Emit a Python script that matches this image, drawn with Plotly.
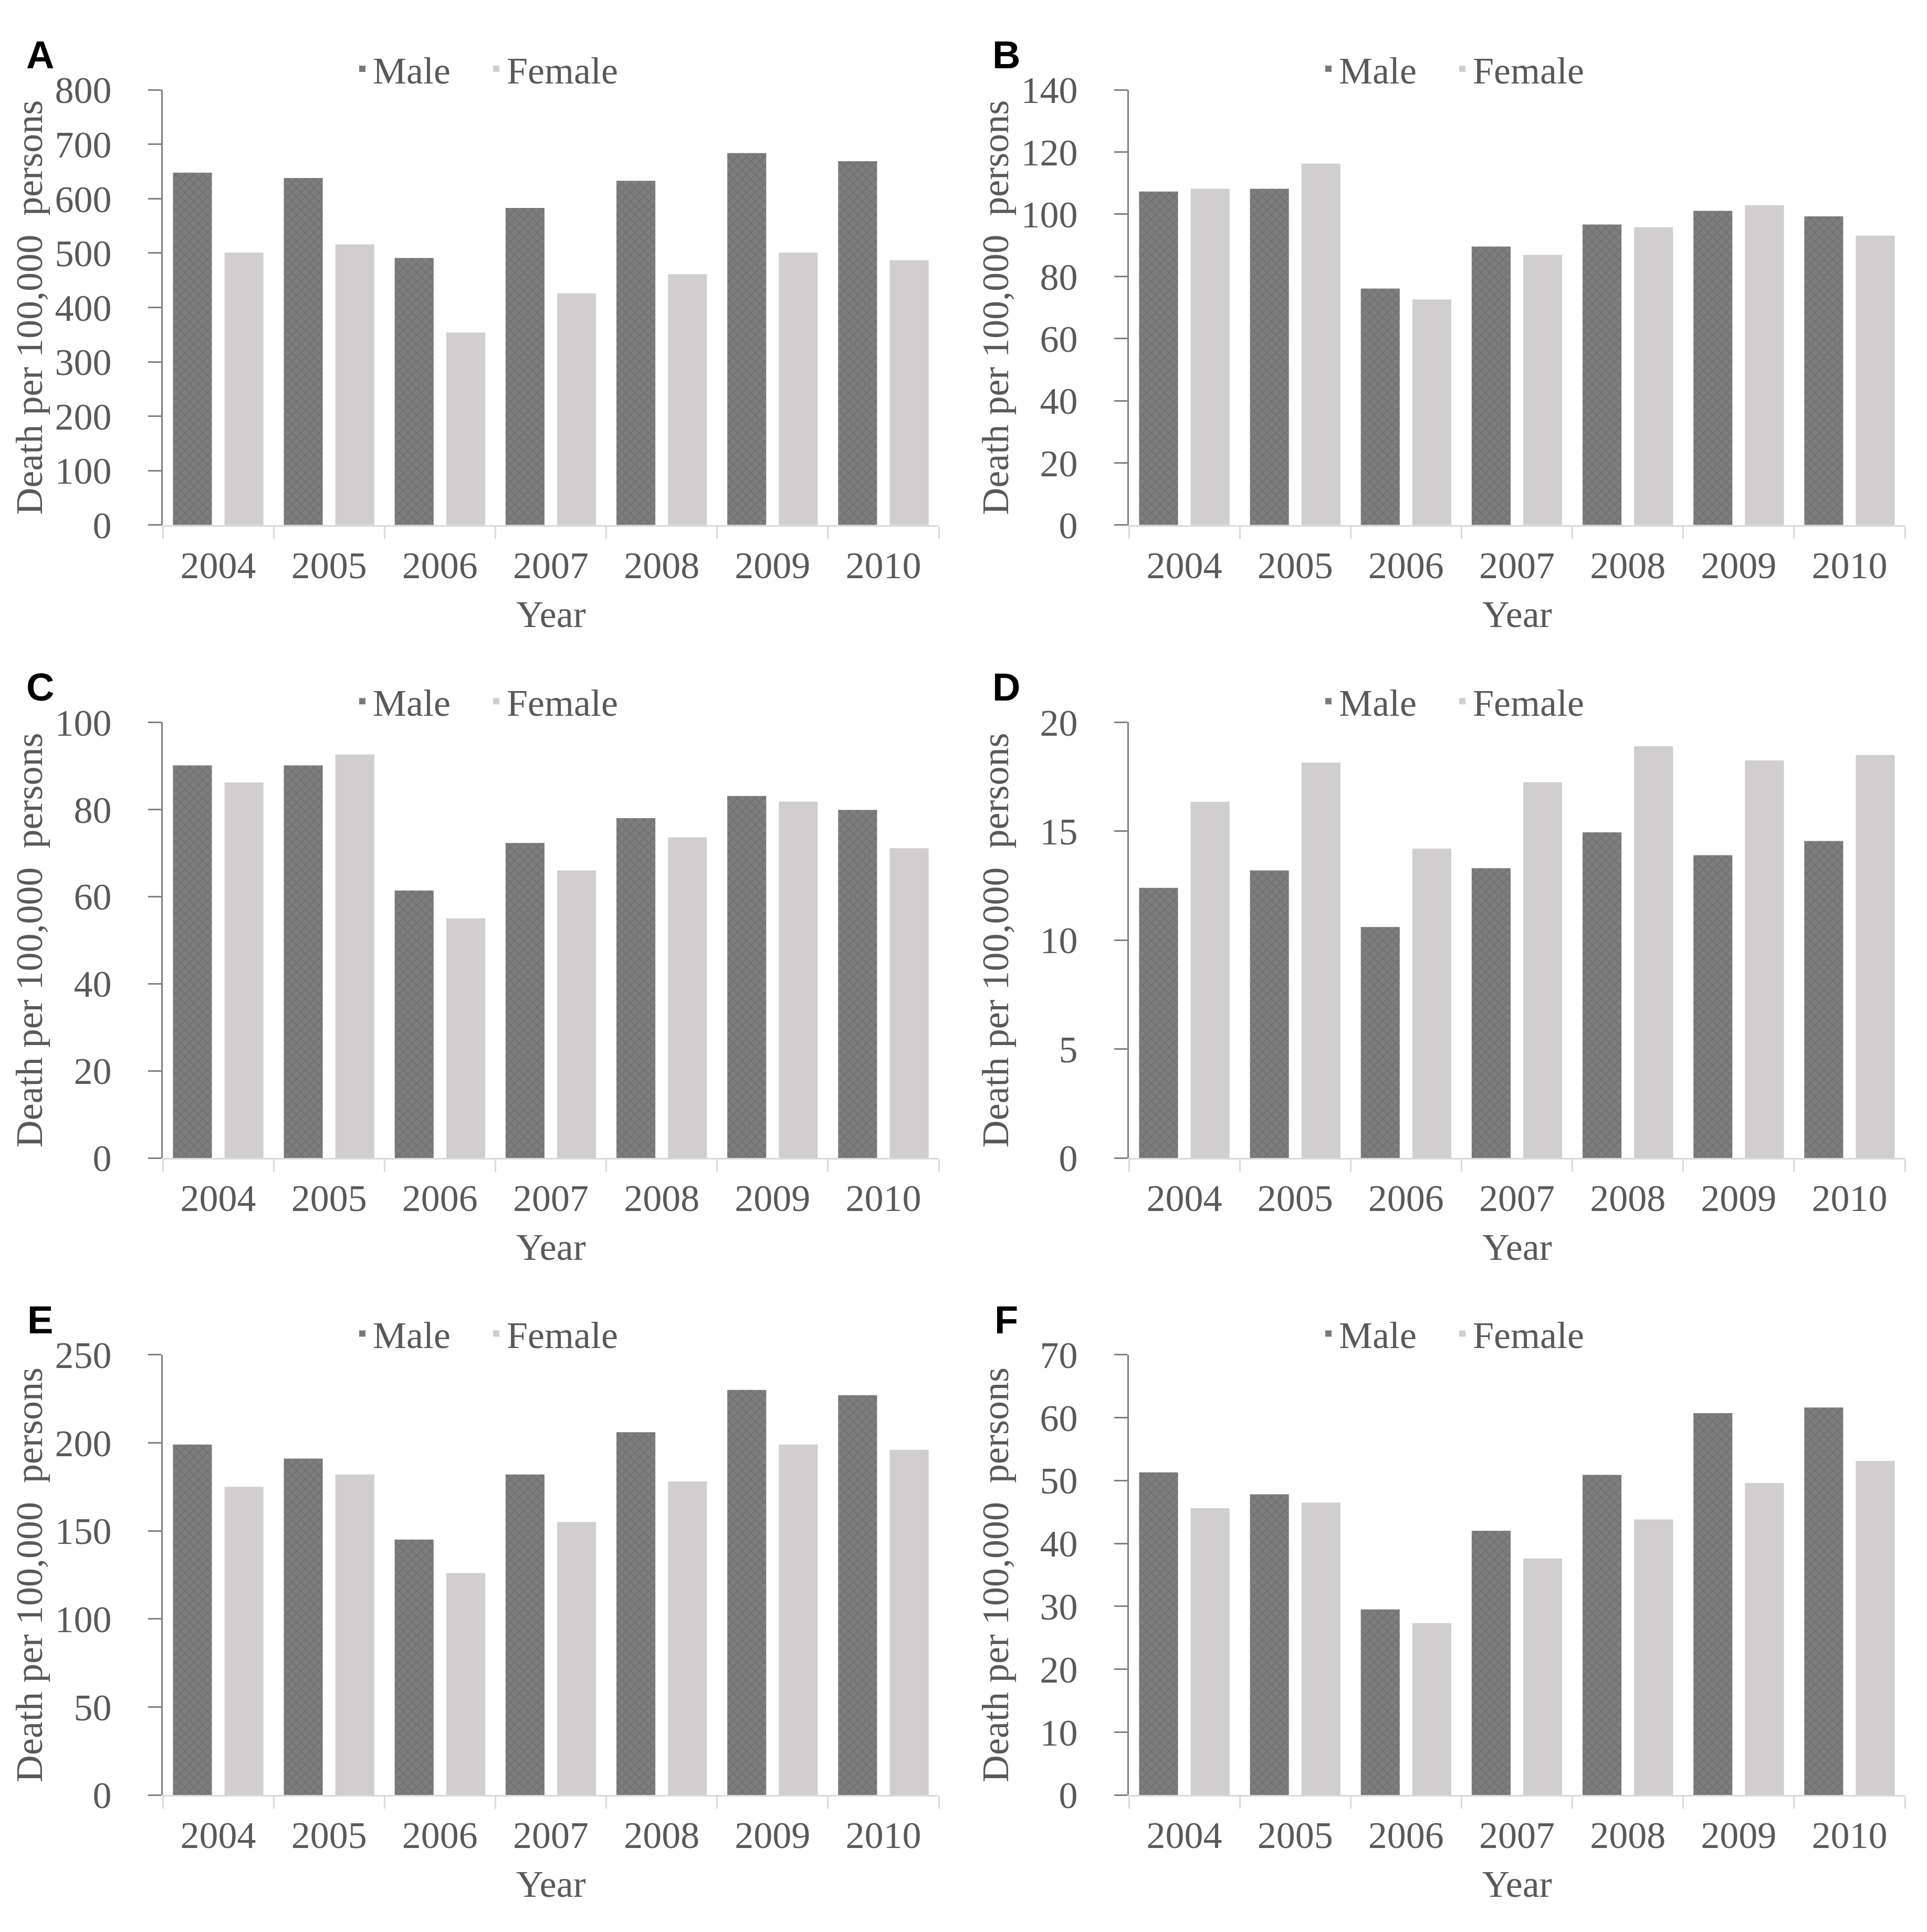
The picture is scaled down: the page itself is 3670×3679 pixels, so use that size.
import plotly.graph_objects as go

# ---------------- data ----------------
years = ["2004", "2005", "2006", "2007", "2008", "2009", "2010"]
panel_labels = ["A", "B", "C", "D", "E", "F"]
series_names = ["Male", "Female"]

male_A = [648, 638, 491, 583, 633, 684, 669]
female_A = [501, 516, 354, 426, 461, 501, 487]
male_B = [107.3, 108.2, 76.1, 89.6, 96.7, 101.1, 99.3]
female_B = [108.2, 116.3, 72.6, 86.9, 95.8, 102.9, 93.1]
male_C = [90.1, 90.1, 61.4, 72.3, 78.0, 83.1, 79.9]
female_C = [86.2, 92.6, 55.0, 66.0, 73.6, 81.8, 71.1]
male_D = [12.4, 13.2, 10.6, 13.3, 14.95, 13.9, 14.55]
female_D = [16.35, 18.15, 14.2, 17.25, 18.9, 18.25, 18.5]
male_E = [199, 191, 145, 182, 206, 230, 227]
female_E = [175, 182, 126, 155, 178, 199, 196]
male_F = [51.3, 47.8, 29.5, 42.0, 50.9, 60.7, 61.6]
female_F = [45.6, 46.5, 27.3, 37.6, 43.8, 49.6, 53.1]

y_max = [800, 140, 100, 20, 250, 70]
y_dtick = [100, 20, 20, 5, 50, 10]
y_title = "Death per 100,000  persons"
x_title = "Year"

male_all = [male_A, male_B, male_C, male_D, male_E, male_F]
female_all = [female_A, female_B, female_C, female_D, female_E, female_F]

# ---------------- layout geometry (pixels) ----------------
W, H = 3670, 3679
col_left = [302, 2142]
col_right = [1780, 3620]
row_top = [127, 1358, 2589]
row_bottom = [974, 2206, 3446]

SERIF = "Liberation Serif, Times New Roman, serif"
TXT = "#595959"
MALE_BG = "#7e7e7e"
MALE_FG = "#666666"
FEMALE = "#d0cece"

fig = go.Figure()
layout = dict(
    width=W, height=H,
    margin=dict(l=0, r=0, t=0, b=0),
    paper_bgcolor="white", plot_bgcolor="white",
    barmode="group", bargap=0.07, bargroupgap=0.245,
    font=dict(family=SERIF, size=72, color=TXT),
    showlegend=True,
)
annotations = []


def px(x):
    return x / W


def py(y):
    return 1 - y / H


for i in range(6):
    r, c = divmod(i, 2)
    x0, x1 = col_left[c], col_right[c]
    y0, y1 = row_top[r], row_bottom[r]
    suffix = "" if i == 0 else str(i + 1)
    xa, ya = "x" + suffix, "y" + suffix
    lg = "legend" + suffix

    fig.add_trace(go.Bar(
        x=years, y=male_all[i], name=series_names[0],
        xaxis=xa, yaxis=ya, legend=lg,
        marker=dict(color=MALE_BG, line=dict(width=0),
                    pattern=dict(shape="x", fgcolor=MALE_FG, bgcolor=MALE_BG,
                                 size=12, solidity=0.35)),
    ))
    fig.add_trace(go.Bar(
        x=years, y=female_all[i], name=series_names[1],
        xaxis=xa, yaxis=ya, legend=lg,
        marker=dict(color=FEMALE, line=dict(width=0)),
    ))

    layout["xaxis" + suffix] = dict(
        domain=[px(x0), px(x1)], anchor=ya, type="category",
        showline=True, linecolor="#d9d9d9", linewidth=3,
        ticks="outside", tickson="boundaries", ticklen=23, tickwidth=3,
        tickcolor="#d9d9d9", showgrid=False, zeroline=False,
        tickfont=dict(family=SERIF, size=72, color=TXT),
        ticklabelstandoff=12, fixedrange=True,
    )
    layout["yaxis" + suffix] = dict(
        domain=[py(y1), py(y0)], anchor=xa,
        range=[0, y_max[i]], dtick=y_dtick[i], tick0=0,
        showline=True, linecolor="#7f7f7f", linewidth=3,
        ticks="outside", ticklen=25, tickwidth=3, tickcolor="#7f7f7f",
        showgrid=False, zeroline=False,
        tickfont=dict(family=SERIF, size=72, color=TXT),
        ticklabelstandoff=55, fixedrange=True,
    )
    layout[lg] = dict(
        orientation="h", x=px(x0 + 360), y=py(y0 - 41),
        xanchor="left", yanchor="middle",
        entrywidth=210, entrywidthmode="pixels",
        font=dict(family=SERIF, size=72, color=TXT),
        bgcolor="rgba(0,0,0,0)", itemclick=False, itemdoubleclick=False,
    )
    # panel letter
    annotations.append(dict(
        text="<b>%s</b>" % panel_labels[i], x=px(x0 - 234), y=py(y0 - 68),
        xref="paper", yref="paper", xanchor="center", yanchor="middle",
        showarrow=False, font=dict(family="Liberation Sans, Arial, sans-serif",
                                   size=74, color="black"),
    ))
    # y title
    annotations.append(dict(
        text=y_title, x=px(x0 - 254), y=py((y0 + y1) / 2),
        xref="paper", yref="paper", xanchor="center", yanchor="middle",
        textangle=-90, showarrow=False,
        font=dict(family=SERIF, size=72, color=TXT),
    ))
    # x title
    annotations.append(dict(
        text=x_title, x=px((x0 + x1) / 2), y=py(y1 + 174),
        xref="paper", yref="paper", xanchor="center", yanchor="middle",
        showarrow=False, font=dict(family=SERIF, size=72, color=TXT),
    ))

layout["annotations"] = annotations
fig.update_layout(**layout)
fig.write_html("out.html")
